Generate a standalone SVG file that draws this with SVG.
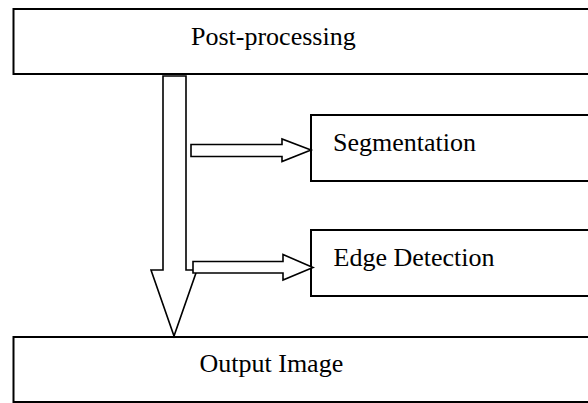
<svg xmlns="http://www.w3.org/2000/svg" width="588" height="403" viewBox="0 0 588 403">
<style>
.box{fill:#fff;stroke:#000;stroke-width:2}
.arr{fill:#fff;stroke:#000;stroke-width:1.6;stroke-linejoin:miter}
.lbl{font-family:"Liberation Serif","Times New Roman",serif;font-size:26px;fill:#000}
</style>
<rect width="588" height="403" fill="#fff"/>
<g id="post-processing">
<rect class="box" x="13.5" y="9" width="600" height="65"/>
<text class="lbl" x="191" y="45">Post-processing</text>
</g>
<g id="segmentation">
<rect class="box" x="311" y="115" width="300" height="66"/>
<text class="lbl" x="333" y="151">Segmentation</text>
</g>
<g id="edge-detection">
<rect class="box" x="311" y="230" width="300" height="66"/>
<text class="lbl" x="333.5" y="266">Edge Detection</text>
</g>
<g id="output-image">
<rect class="box" x="13.5" y="337" width="600" height="65"/>
<text class="lbl" x="199.5" y="372">Output Image</text>
</g>
<g id="connectors">
<polygon class="arr" points="163,76 186,76 186,270 197,270 174,336 151,270 163,270"/>
<polygon class="arr" points="191,144.5 282,144.5 282,139 311,150 282,161.5 282,156.5 191,156.5"/>
<polygon class="arr" points="193,261.5 283,261.5 283,254.5 313,267.5 283,280 283,273 193,273"/>
</g>
</svg>
